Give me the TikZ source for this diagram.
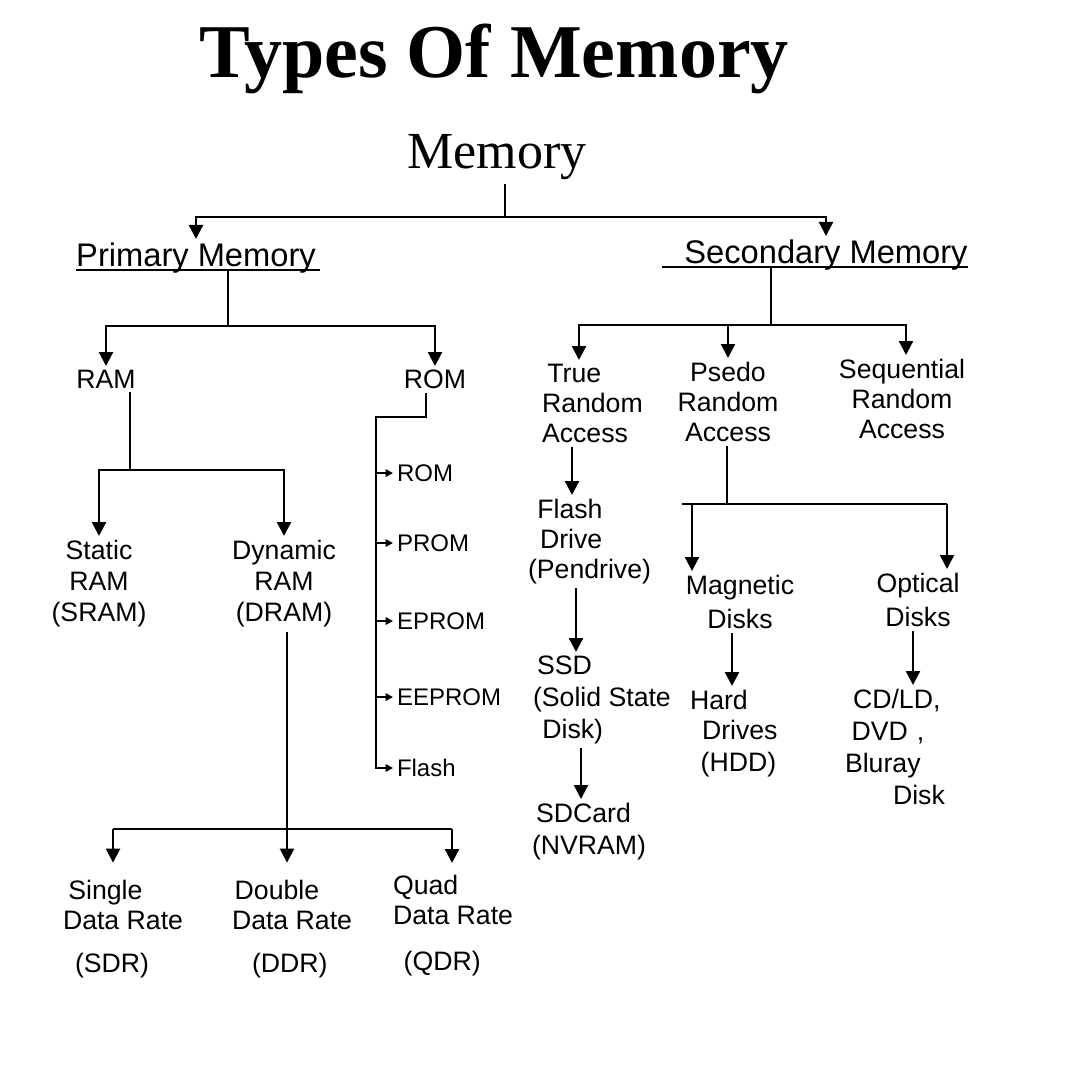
\documentclass[tikz,border=0pt]{standalone}
\usepackage{fontspec}
\setmainfont{Liberation Serif}
\newfontfamily\hand{Liberation Sans}
\usetikzlibrary{arrows.meta,calc}
\begin{document}
\begin{tikzpicture}[x=0.75pt,y=-0.75pt,
  ln/.style={line width=1.7pt},
  arr/.style={ln,-{Triangle[length=10.5pt,width=10.5pt]}},
  sarr/.style={ln,-{Triangle[length=5.5pt,width=5.5pt]}},
  hand/.style={font=\hand\fontsize{20}{22.5}\selectfont, align=center, inner sep=0pt, outer sep=3pt},
  big/.style={hand, font=\hand\fontsize{24.5}{27}\selectfont},
  roml/.style={hand, font=\hand\fontsize{18}{20}\selectfont, anchor=west},
]
\fill[white] (0,0) rectangle (1069,1080);
\useasboundingbox (0,0) rectangle (1069,1080);

% titles
\node[font=\bfseries\fontsize{57}{62}\selectfont, anchor=base, inner sep=0pt] (title) at (494,78) {Types Of Memory};
\node[font=\fontsize{39}{44}\selectfont, anchor=base, inner sep=0pt, outer sep=3pt] (mem) at (497,169) {Memory};

% level 1
\node[big, anchor=north] (prim) at (196,239) {Primary Memory};
\node[big, anchor=north] (sec) at (826,236) {Secondary Memory};

% primary branch
\node[hand, anchor=north] (ram) at (106,366) {RAM};
\node[hand, anchor=north] (rom) at (435,366) {ROM};
\node[hand, anchor=north, font=\hand\fontsize{20}{23.5}\selectfont] (sram) at (99,536) {Static\\RAM\\(SRAM)};
\node[hand, anchor=north, font=\hand\fontsize{20}{23.5}\selectfont] (dram) at (284,536) {Dynamic\\RAM\\(DRAM)};

\node[roml] (rom1) at (393,473) {ROM};
\node[roml] (prom) at (393,543) {PROM};
\node[roml] (eprom) at (393,621) {EPROM};
\node[roml] (eeprom) at (393,697) {EEPROM};
\node[roml] (flashr) at (393,768) {Flash};

\node[hand, align=left, anchor=north west] (sdr) at (59,876) {\hspace{4pt}Single\\Data Rate\\[10pt]\hspace{9pt}(SDR)};
\node[hand, align=left, anchor=north west] (ddr) at (228,876) {\hspace{2pt}Double\\Data Rate\\[10pt]\hspace{15pt}(DDR)};
\node[hand, align=left, anchor=north west] (qdr) at (389,871) {Quad\\Data Rate\\[12pt]\hspace{8pt}(QDR)};

% secondary branch
\node[hand, align=left, anchor=north west] (tra) at (538,360) {\hspace{4pt}True\\Random\\Access};
\node[hand, anchor=north] (pra) at (728,358) {Psedo\\Random\\Access};
\node[hand, anchor=north] (sra) at (902,355) {Sequential\\Random\\Access};

\node[hand, align=left, anchor=north west] (flash) at (524,495) {\hspace{7pt}Flash\\\hspace{9pt}Drive\\(Pendrive)};
\node[hand, align=left, anchor=north west, font=\hand\fontsize{20}{24}\selectfont] (ssd) at (529,652) {\hspace{3pt}SSD\\(Solid State\\\hspace{7pt}Disk)};
\node[hand, align=left, anchor=north west] (sdcard) at (528,799) {\hspace{3pt}SDCard\\[2pt](NVRAM)};

\node[hand, anchor=north] (mag) at (740,571) {Magnetic\\[3pt]Disks};
\node[hand, anchor=north] (opt) at (918,569) {Optical\\[3pt]Disks};
\node[hand, align=left, anchor=north west] (hdd) at (686,686) {Hard\\\hspace{9pt}Drives\\[2pt]\hspace{8pt}(HDD)};
\node[hand, align=left, anchor=north west, font=\hand\fontsize{20}{24}\selectfont] (cd) at (841,685) {\hspace{6pt}CD/LD,\\\hspace{5pt}DVD\,\,,\\Bluray\\\hspace{36pt}Disk};

% connectors: top
\coordinate (jm) at (505,217);
\draw[ln] (jm |- mem.south) -- (jm);
\draw[arr] (jm) -| (prim.north);
\draw[arr] (jm) -| (sec.north);

% primary memory
\coordinate (pu1) at (76,270);
\coordinate (pu2) at (320,270);
\draw[ln] (pu1) -- (pu2);
\coordinate (pj) at (228,326);
\draw[ln] (pj |- pu1) -- (pj);
\draw[arr] (pj) -| (ram.north);
\draw[arr] (pj) -| (rom.north);

% RAM
\coordinate (rj) at (130,470);
\draw[ln] (rj |- ram.south) -- (rj);
\draw[arr] (rj) -| (sram.north);
\draw[arr] (rj) -| (dram.north);

% ROM list
\coordinate (rk) at (426,417);
\coordinate (rv) at (376,417);
\draw[sarr] (rk |- rom.south) -- (rk) -- (rv) -- (rv |- flashr.west) -- (flashr.west);
\foreach \n in {rom1,prom,eprom,eeprom} \draw[sarr] (rv |- \n.west) -- (\n.west);

% DRAM
\coordinate (dj) at (287,829);
\coordinate (dl) at (113,829);
\coordinate (dr) at (452,829);
\draw[arr, shorten >=10pt] (dj |- dram.south) -- (dj |- ddr.north);
\draw[ln] (dl) -- (dr);
\draw[arr, shorten >=10pt] (dl) -- (dl |- sdr.north);
\draw[arr, shorten >=6pt] (dr) -- (dr |- qdr.north);

% secondary memory
\coordinate (su1) at (662,267);
\coordinate (su2) at (968,267);
\draw[ln] (su1) -- (su2);
\coordinate (sj) at (771,325);
\coordinate (xa) at (579,325);
\coordinate (xc) at (906,325);
\draw[ln] (sj |- su1) -- (sj);
\draw[arr] (sj) -- (xa) -- (xa |- tra.north);
\draw[arr] (sj -| pra.north) -- (pra.north);
\draw[arr] (sj) -- (xc) -- (xc |- sra.north);

% true random access chain
\coordinate (xt1) at (572,0);
\coordinate (xt2) at (576,0);
\coordinate (xt3) at (581,0);
\draw[arr] (xt1 |- tra.south) -- (xt1 |- flash.north);
\draw[arr] (xt2 |- flash.south) -- (xt2 |- ssd.north);
\draw[arr] (xt3 |- ssd.south) -- (xt3 |- sdcard.north);

% pseudo random access
\coordinate (pj2) at (727,504);
\coordinate (pl) at (682,504);
\coordinate (pm) at (692,504);
\coordinate (pr) at (947,504);
\draw[ln] (pj2 |- pra.south) -- (pj2);
\draw[ln] (pl) -- (pr);
\draw[arr] (pm) -- (pm |- mag.north);
\draw[arr] (pr) -- (pr |- opt.north);
\coordinate (xm) at (732,0);
\coordinate (xo) at (913,0);
\draw[arr] (xm |- mag.south) -- (xm |- hdd.north);
\draw[arr] (xo |- opt.south) -- (xo |- cd.north);
\end{tikzpicture}
\end{document}
